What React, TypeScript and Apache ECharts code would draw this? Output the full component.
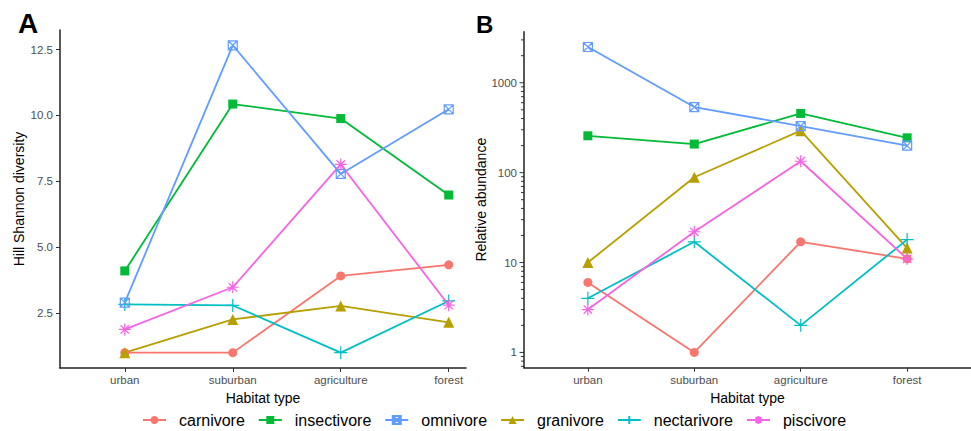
import React, { useEffect, useRef } from 'react';
import * as echarts from 'echarts';

const categories = ['urban', 'suburban', 'agriculture', 'forest'];

// Panel A: Hill Shannon diversity
const carnivoreDiv = [1.0, 1.0, 3.91, 4.33];
const insectivoreDiv = [4.1, 10.43, 9.88, 6.98];
const omnivoreDiv = [2.9, 12.66, 7.78, 10.23];
const granivoreDiv = [1.0, 2.26, 2.77, 2.15];
const nectarivoreDiv = [2.83, 2.79, 1.0, 2.96];
const piscivoreDiv = [1.88, 3.48, 8.14, 2.8];

// Panel B: Relative abundance
const carnivoreAbund = [6, 1, 17, 11];
const insectivoreAbund = [257, 208, 456, 244];
const omnivoreAbund = [2500, 537, 330, 200];
const granivoreAbund = [10, 89, 293, 14.5];
const nectarivoreAbund = [4, 17, 2, 18];
const piscivoreAbund = [3, 22, 134, 11];

const diversityTicks = [2.5, 5, 7.5, 10, 12.5];

const legendOrder = ['carnivore', 'insectivore', 'omnivore', 'granivore', 'nectarivore', 'piscivore'];
const drawOrder = ['carnivore', 'granivore', 'insectivore', 'nectarivore', 'omnivore', 'piscivore'];

const diversity: Record<string, number[]> = {
  carnivore: carnivoreDiv,
  insectivore: insectivoreDiv,
  omnivore: omnivoreDiv,
  granivore: granivoreDiv,
  nectarivore: nectarivoreDiv,
  piscivore: piscivoreDiv,
};
const abundance: Record<string, number[]> = {
  carnivore: carnivoreAbund,
  insectivore: insectivoreAbund,
  omnivore: omnivoreAbund,
  granivore: granivoreAbund,
  nectarivore: nectarivoreAbund,
  piscivore: piscivoreAbund,
};

const colors: Record<string, string> = {
  carnivore: '#F8766D',
  granivore: '#B79F00',
  insectivore: '#00BA38',
  nectarivore: '#00BFC4',
  omnivore: '#619CFF',
  piscivore: '#F564E3',
};

const shapes: Record<string, { symbol: string; size: number; filled: boolean }> = {
  carnivore: { symbol: 'circle', size: 9, filled: true },
  insectivore: { symbol: 'rect', size: 9, filled: true },
  omnivore: { symbol: 'path://M0,0L10,0L10,10L0,10ZM0,0L10,10M10,0L0,10', size: 9, filled: false },
  granivore: { symbol: 'triangle', size: 11, filled: true },
  nectarivore: { symbol: 'path://M5,0L5,10M0,5L10,5', size: 13, filled: false },
  piscivore: { symbol: 'path://M5,0L5,10M0,5L10,5M1.5,1.5L8.5,8.5M8.5,1.5L1.5,8.5', size: 12, filled: false },
};

const FONT = 'Liberation Sans, Arial, sans-serif';
const yMinA = 0.417, yMaxA = 13.24;
const yMinB = 0.676, yMaxB = 3700;
const xMinA = -0.6, xMaxA = 3.16;
const xMinB = -0.6, xMaxB = 3.6;

function makeSeries(panel: number, data: Record<string, number[]>) {
  return drawOrder.map((g) => {
    const sh = shapes[g];
    const c = colors[g];
    return {
      type: 'line',
      name: g,
      xAxisIndex: panel,
      yAxisIndex: panel,
      data: data[g].map((v, i) => [i, v]),
      symbol: sh.symbol,
      symbolSize: sh.size,
      lineStyle: { color: c, width: 1.8 },
      itemStyle: sh.filled
        ? { color: c }
        : { color: 'none', borderColor: c, borderWidth: 1.2 },
      emphasis: { disabled: true },
      silent: true,
    };
  });
}

const xAxisBase = (min: number, max: number, gridIndex: number) => ({
  type: 'value',
  gridIndex,
  min,
  max,
  name: 'Habitat type',
  nameLocation: 'middle',
  nameGap: 21,
  nameTextStyle: { fontSize: 14, color: '#000', fontFamily: FONT },
  splitLine: { show: false },
  axisLine: { show: true, onZero: false, lineStyle: { color: '#222', width: 1.5 } },
  axisTick: { show: true, length: 4, lineStyle: { color: '#333' }, customValues: [0, 1, 2, 3] },
  axisLabel: {
    customValues: [0, 1, 2, 3],
    formatter: (v: number) => categories[Math.round(v)] ?? '',
    fontSize: 11.5,
    color: '#4D4D4D',
    margin: 6,
    fontFamily: FONT,
  },
});

export default function App() {
  const ref = useRef<HTMLDivElement>(null);
  useEffect(() => {
    document.body.style.margin = '0';
    const chart = echarts.init(ref.current!, null, { renderer: 'svg' });
    const letters = [
      {
        type: 'text',
        x: 18,
        y: 23.5,
        style: { text: 'A', font: `bold 28px ${FONT}`, fill: '#000', verticalAlign: 'middle' },
      },
      {
        type: 'text',
        x: 476,
        y: 24.5,
        style: { text: 'B', font: `bold 24px ${FONT}`, fill: '#000', verticalAlign: 'middle' },
      },
    ];
    const option: any = {
      animation: false,
      textStyle: { fontFamily: FONT },
      grid: [
        { left: 60, top: 30, width: 406, height: 338 },
        { left: 524, top: 31.7, width: 447, height: 336 },
      ],
      legend: {
        data: legendOrder,
        left: 137,
        top: 407,
        itemWidth: 23,
        itemHeight: 10,
        itemGap: 13,
        selectedMode: false,
        textStyle: { fontSize: 16, color: '#000', padding: [0, 0, 0, 8], fontFamily: FONT },
      },
      xAxis: [xAxisBase(xMinA, xMaxA, 0), xAxisBase(xMinB, xMaxB, 1)],
      yAxis: [
        {
          type: 'value',
          gridIndex: 0,
          min: yMinA,
          max: yMaxA,
          name: 'Hill Shannon diversity',
          nameLocation: 'middle',
          nameGap: 34,
          nameTextStyle: { fontSize: 14, color: '#000', fontFamily: FONT },
          splitLine: { show: false },
          axisLine: { show: true, onZero: false, lineStyle: { color: '#222', width: 1.5 } },
          axisTick: { show: true, length: 4, lineStyle: { color: '#333' }, customValues: diversityTicks },
          axisLabel: {
            customValues: diversityTicks,
            formatter: (v: number) => v.toFixed(1),
            fontSize: 11.5,
            color: '#4D4D4D',
            margin: 7,
            fontFamily: FONT,
          },
        },
        {
          type: 'log',
          logBase: 10,
          gridIndex: 1,
          min: yMinB,
          max: yMaxB,
          name: 'Relative abundance',
          nameLocation: 'middle',
          nameGap: 30,
          nameTextStyle: { fontSize: 14, color: '#000', fontFamily: FONT },
          splitLine: { show: false },
          axisLine: { show: true, onZero: false, lineStyle: { color: '#222', width: 1.5 } },
          axisTick: { show: false },
          axisLabel: {
            formatter: (v: number) => {
              const l = Math.log10(v);
              return Math.abs(l - Math.round(l)) < 1e-6 ? String(Math.round(v)) : '';
            },
            fontSize: 11.5,
            color: '#4D4D4D',
            margin: 7,
            fontFamily: FONT,
          },
        },
      ],
      graphic: letters,
      series: [...makeSeries(0, diversity), ...makeSeries(1, abundance)],
    };
    chart.setOption(option);

    const ticks: any[] = [];
    for (const dec of [0.1, 1, 10, 100, 1000]) {
      for (let k = 1; k <= 9; k++) {
        const v = k * dec;
        if (v < yMinB || v > yMaxB) continue;
        const p = chart.convertToPixel({ gridIndex: 1 }, [xMinB, v]) as number[];
        if (!p) continue;
        const len = k === 1 ? 4.5 : 3;
        ticks.push({
          type: 'line',
          silent: true,
          shape: { x1: p[0] - len, y1: p[1], x2: p[0], y2: p[1] },
          style: { stroke: '#333', lineWidth: 1 },
        });
      }
    }
    chart.setOption({ graphic: [...letters, ...ticks] });

    return () => chart.dispose();
  }, []);
  return <div ref={ref} style={{ width: 971, height: 431 }} />;
}
